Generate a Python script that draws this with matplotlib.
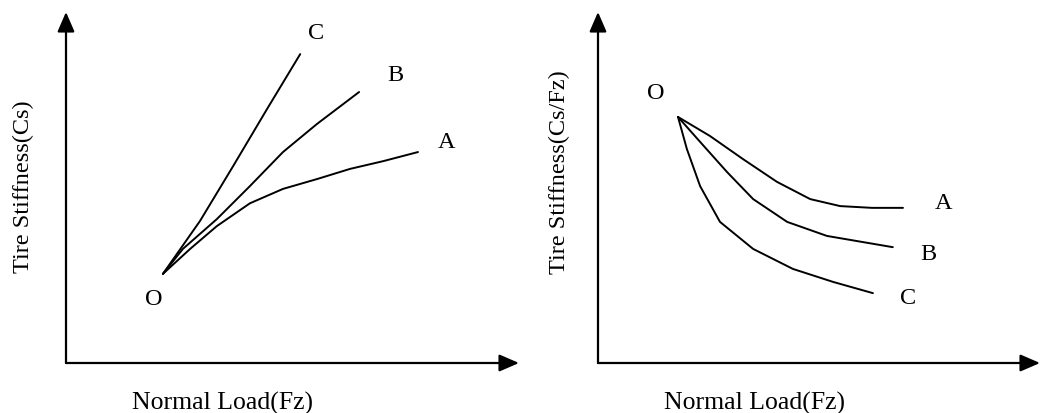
import matplotlib
matplotlib.use("Agg")
import matplotlib.pyplot as plt

plt.rcParams['font.family'] = ['Liberation Serif', 'DejaVu Serif']

# ---- Data (arbitrary units, axes span 0..10) ----
# Left panel: Tire Stiffness (Cs) vs Normal Load (Fz)
left_A_x = [2.14, 2.74, 3.33, 4.06, 4.79, 5.54, 6.27, 7.00, 7.77]
left_A_y = [2.54, 3.25, 3.90, 4.55, 4.96, 5.24, 5.53, 5.75, 6.01]
left_B_x = [2.14, 2.58, 3.33, 4.06, 4.79, 5.54, 6.47]
left_B_y = [2.54, 3.25, 4.10, 5.04, 6.01, 6.81, 7.72]
left_C_x = [2.14, 2.96, 3.69, 4.44, 5.17]
left_C_y = [2.54, 4.05, 5.61, 7.24, 8.80]
left_labels = ['O', 'A', 'B', 'C']
left_label_x = [1.94, 8.39, 7.28, 5.52]
left_label_y = [1.85, 6.30, 8.21, 9.43]

# Right panel: Tire Stiffness (Cs/Fz) vs Normal Load (Fz)
right_A_x = [1.81, 2.53, 3.28, 4.05, 4.80, 5.48, 6.20, 6.90]
right_A_y = [7.01, 6.47, 5.81, 5.16, 4.67, 4.47, 4.42, 4.42]
right_B_x = [1.81, 2.31, 2.92, 3.51, 4.28, 5.18, 6.67]
right_B_y = [7.01, 6.30, 5.44, 4.67, 4.02, 3.62, 3.30]
right_C_x = [1.81, 2.01, 2.31, 2.76, 3.51, 4.41, 5.32, 6.22]
right_C_y = [7.01, 6.10, 5.04, 4.02, 3.25, 2.68, 2.31, 1.99]
right_labels = ['O', 'A', 'B', 'C']
right_label_x = [1.31, 7.81, 7.47, 7.01]
right_label_y = [7.72, 4.56, 3.11, 1.88]

x_title = 'Normal Load(Fz)'
left_y_title = 'Tire Stiffness(Cs)'
right_y_title = 'Tire Stiffness(Cs/Fz)'

W, H = 1042, 414
fig = plt.figure(figsize=(W / 100, H / 100), dpi=100)
fig.patch.set_facecolor('white')

ax_l = fig.add_axes([66 / W, (H - 364) / H, 453 / W, 351 / H])
ax_r = fig.add_axes([598 / W, (H - 364) / H, 442 / W, 351 / H])


def style_axes(ax):
    ax.set_xlim(0, 10)
    ax.set_ylim(0, 10)
    for s in ax.spines.values():
        s.set_visible(False)
    ax.set_xticks([])
    ax.set_yticks([])
    ax.patch.set_alpha(0)
    aprops = dict(arrowstyle='-|>,head_length=1.2,head_width=0.52',
                  lw=1.6, color='black', shrinkA=0, shrinkB=0)
    ax.annotate('', xy=(1, 0), xytext=(0, 0), xycoords='axes fraction',
                textcoords='axes fraction', arrowprops=aprops,
                annotation_clip=False)
    ax.annotate('', xy=(0, 1), xytext=(0, 0), xycoords='axes fraction',
                textcoords='axes fraction', arrowprops=aprops,
                annotation_clip=False)


style_axes(ax_l)
style_axes(ax_r)

lw = 1.4
for xs, ys in [(left_A_x, left_A_y), (left_B_x, left_B_y), (left_C_x, left_C_y)]:
    ax_l.plot(xs, ys, color='black', lw=lw, solid_capstyle='round',
              solid_joinstyle='round')
for xs, ys in [(right_A_x, right_A_y), (right_B_x, right_B_y), (right_C_x, right_C_y)]:
    ax_r.plot(xs, ys, color='black', lw=lw, solid_capstyle='round',
              solid_joinstyle='round')

for t, x, y in zip(left_labels, left_label_x, left_label_y):
    ax_l.text(x, y, t, fontsize=17.5, ha='center', va='center', color='black')
for t, x, y in zip(right_labels, right_label_x, right_label_y):
    ax_r.text(x, y, t, fontsize=17.5, ha='center', va='center', color='black')

fig.text(222 / W, 1 - 403 / H, x_title, fontsize=18.5, ha='center', va='center')
fig.text(755 / W, 1 - 403 / H, x_title, fontsize=18.5, ha='center', va='center')
fig.text(23 / W, 1 - 187 / H, left_y_title, fontsize=17.5, ha='center',
         va='center', rotation=90)
fig.text(559 / W, 1 - 172 / H, right_y_title, fontsize=17.5, ha='center',
         va='center', rotation=90)

fig.savefig('out.png', dpi=100, facecolor='white')
